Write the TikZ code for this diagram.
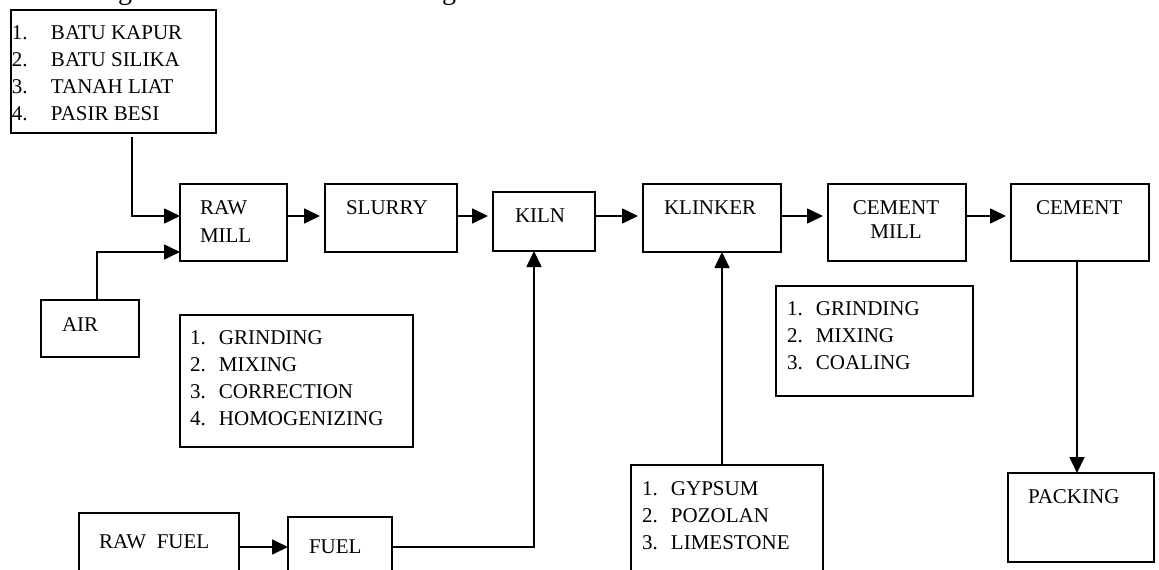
\documentclass[tikz,border=0pt]{standalone}
\usepackage{fontspec}
\setmainfont{Liberation Serif}
\usetikzlibrary{arrows.meta,calc}
\newcommand\numbox[2]{\makebox[#1][l]{#2}}
\tikzset{
  box/.style={draw, line width=1.7pt, inner sep=0pt, outer sep=0pt, anchor=north west},
  lbl/.style={anchor=base west, inner sep=0pt, outer sep=0pt, align=left, font=\fontsize{21}{26.7}\selectfont},
  arr/.style={line width=1.7pt, -{Triangle[length=16pt,width=15pt]}},
  gap/.style={shorten >=5pt},
}
\begin{document}
\begin{tikzpicture}[x=1pt,y=-1pt]
\useasboundingbox (0,0) rectangle (1159,570);
\fill[white] (0,0) rectangle (1159,570);

% cut-off title fragments
\node[anchor=base, inner sep=0pt, font=\fontsize{28}{28}\selectfont] (g1) at (125,0) {g};
\node[anchor=base, inner sep=0pt, font=\fontsize{28}{28}\selectfont] (g2) at (449,0) {g};

% boxes
\node[box, minimum width=205pt, minimum height=123pt] (src) at (11,10) {};
\node[box, minimum width=107pt, minimum height=77pt] (rawmill) at (180,184) {};
\node[box, minimum width=98pt, minimum height=57pt] (air) at (41,300) {};
\node[box, minimum width=132pt, minimum height=68pt] (slurry) at (325,184) {};
\node[box, minimum width=102pt, minimum height=59pt] (kiln) at (493,192) {};
\node[box, minimum width=138pt, minimum height=68pt] (klinker) at (643,184) {};
\node[box, minimum width=138pt, minimum height=77pt] (cmill) at (828,184) {};
\node[box, minimum width=138pt, minimum height=77pt] (cement) at (1011,184) {};
\node[box, minimum width=233pt, minimum height=132pt] (proc1) at (180,315) {};
\node[box, minimum width=197pt, minimum height=110pt] (proc2) at (776,286) {};
\node[box, minimum width=192pt, minimum height=130pt] (add) at (631,465) {};
\node[box, minimum width=146pt, minimum height=89pt] (packing) at (1008,473) {};
\node[box, minimum width=160pt, minimum height=80pt] (rawfuel) at (79,513) {};
\node[box, minimum width=104pt, minimum height=80pt] (fuel) at (288,517) {};

% texts (multi-line nodes: base = baseline of last line)
\node[lbl] (tsrc) at (12,120) {\numbox{39pt}{1.}BATU KAPUR\\\numbox{39pt}{2.}BATU SILIKA\\\numbox{39pt}{3.}TANAH LIAT\\\numbox{39pt}{4.}PASIR BESI};
\node[lbl, font=\fontsize{21}{28}\selectfont] (trm) at (200,242) {RAW\\MILL};
\node[lbl] (tair) at (62,331) {AIR};
\node[lbl] (tsl) at (346,214) {SLURRY};
\node[lbl] (tkiln) at (515,222) {KILN};
\node[lbl] (tkl) at (664,214) {KLINKER};
\node[lbl, anchor=base, align=center, font=\fontsize{21}{23.5}\selectfont] (tcm) at (896,238) {CEMENT\\MILL};
\node[lbl] (tce) at (1036,214) {CEMENT};
\node[lbl] (tpk) at (1028,503) {PACKING};
\node[lbl] (trf) at (99,548) {RAW\ \ FUEL};
\node[lbl] (tfu) at (309,553) {FUEL};
\node[lbl] (tp1) at (190,425) {\numbox{29pt}{1.}GRINDING\\\numbox{29pt}{2.}MIXING\\\numbox{29pt}{3.}CORRECTION\\\numbox{29pt}{4.}HOMOGENIZING};
\node[lbl] (tp2) at (787,369) {\numbox{29pt}{1.}GRINDING\\\numbox{29pt}{2.}MIXING\\\numbox{29pt}{3.}COALING};
\node[lbl] (tadd) at (642,549) {\numbox{29pt}{1.}GYPSUM\\\numbox{29pt}{2.}POZOLAN\\\numbox{29pt}{3.}LIMESTONE};

% connectors
\draw[arr] ([xshift=121pt,yshift=-4pt]src.south west) |- ([yshift=-32pt]rawmill.north west);
\draw[arr] ([xshift=56pt]air.north west) |- ([yshift=-68pt]rawmill.north west);
\draw[arr, gap] ([yshift=-32pt]rawmill.north east) -- ([yshift=-32pt]rawmill.north east -| slurry.west);
\draw[arr, gap] ([yshift=-32pt]slurry.north east) -- ([yshift=-32pt]slurry.north east -| kiln.west);
\draw[arr, gap] ([yshift=-24pt]kiln.north east) -- ([yshift=-24pt]kiln.north east -| klinker.west);
\draw[arr, gap] ([yshift=-32pt]klinker.north east) -- ([yshift=-32pt]klinker.north east -| cmill.west);
\draw[arr, gap] ([yshift=-32pt]cmill.north east) -- ([yshift=-32pt]cmill.north east -| cement.west);
\draw[arr] ([yshift=-34pt]rawfuel.north east) -- ([yshift=-34pt]rawfuel.north east -| fuel.west);
\draw[arr] ([yshift=-30pt]fuel.north east) -| ([xshift=41pt]kiln.south west);
\draw[arr] ([xshift=91pt]add.north west) -- ([xshift=91pt]add.north west |- klinker.south);
\draw[arr] ([xshift=66pt]cement.south west) -- ([xshift=66pt]cement.south west |- packing.north);
\end{tikzpicture}
\end{document}
